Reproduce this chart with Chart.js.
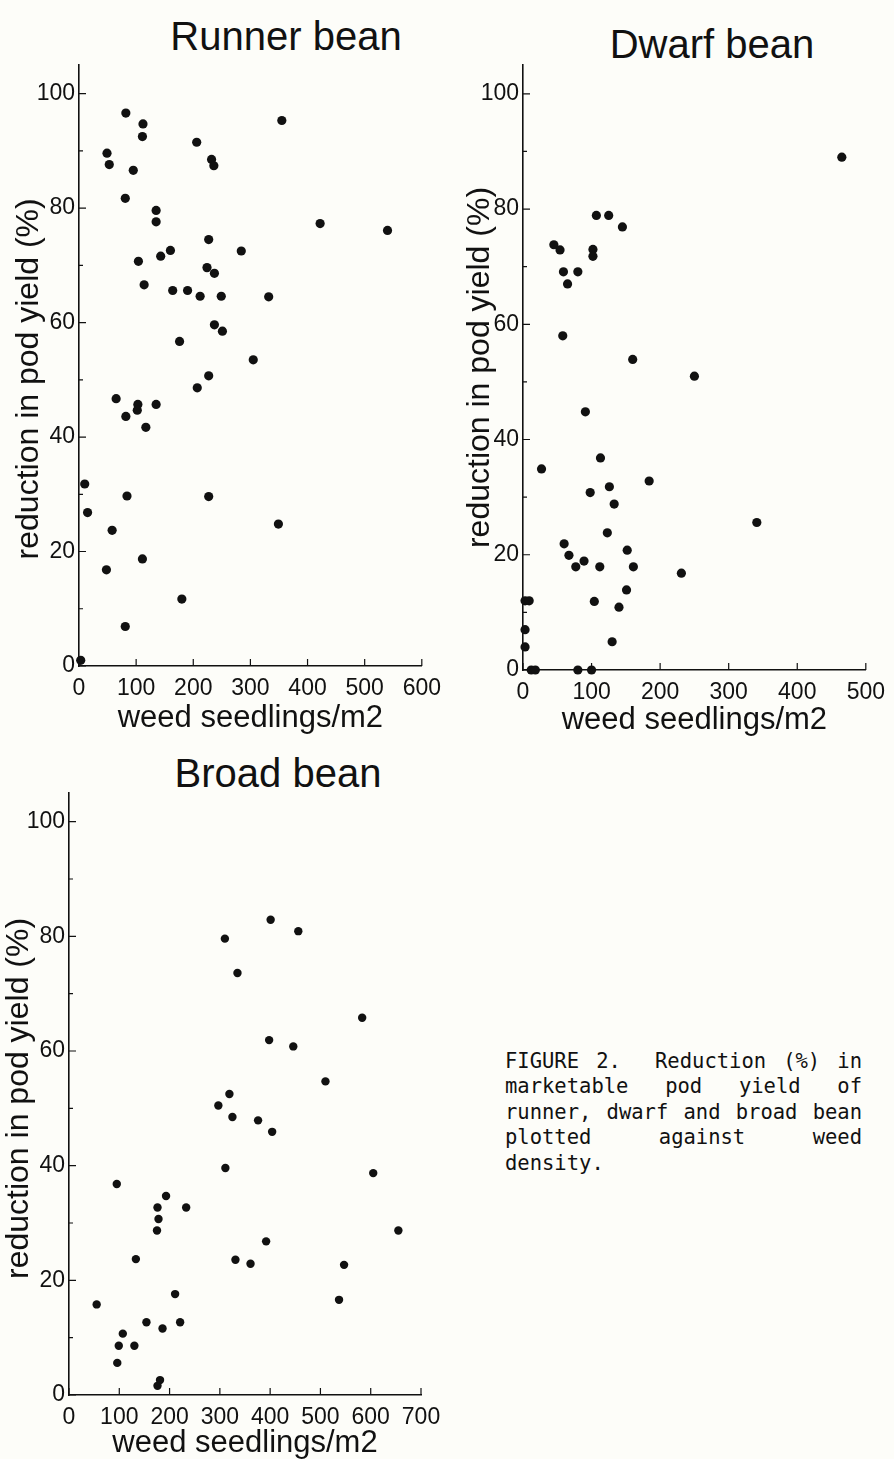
<!DOCTYPE html>
<html>
<head>
<meta charset="utf-8">
<script src="https://cdn.jsdelivr.net/npm/chart.js@4.4.1/dist/chart.umd.min.js"></script>
<style>
  html, body { margin: 0; padding: 0; background: #fdfdf9; }
  body { position: relative; width: 894px; height: 1459px; overflow: hidden; font-family: "Liberation Sans", Arial, sans-serif; }
  .panel { position: absolute; }
  .title { position: absolute; font-size: 40px; line-height: 40px; color: #111; white-space: nowrap; transform: translateX(-50%); }
  .caption { position: absolute; left: 505px; top: 1049px; width: 357px; font-family: "DejaVu Sans Mono", "Liberation Mono", monospace; font-size: 20.5px; line-height: 25.4px; color: #111; }
  .caption div { text-align: justify; text-align-last: justify; white-space: nowrap; }
  .caption div.last { text-align-last: left; }
</style>
</head>
<body>
<div class="title" style="left:286px; top:16px;">Runner bean</div>
<div class="title" style="left:712px; top:24px;">Dwarf bean</div>
<div class="title" style="left:278px; top:753px;">Broad bean</div>

<div class="panel" style="left:0; top:0; width:450px; height:740px;"><canvas id="runnerChart"></canvas></div>
<div class="panel" style="left:445px; top:0; width:449px; height:745px;"><canvas id="dwarfChart"></canvas></div>
<div class="panel" style="left:0; top:745px; width:450px; height:714px;"><canvas id="broadChart"></canvas></div>

<div class="caption">
  <div>FIGURE 2.&nbsp; Reduction (%) in</div>
  <div>marketable pod yield of</div>
  <div>runner, dwarf and broad bean</div>
  <div>plotted against weed</div>
  <div class="last">density.</div>
</div>

<script>
// weed seedlings/m2 (x) and reduction in pod yield % (y)
const runnerWeeds = [49, 53, 82, 112, 111, 95, 81, 135, 135, 206, 232, 236, 227, 284, 104, 143, 160, 114, 224, 237,
    164, 190, 212, 249, 332, 237, 251, 176, 305, 227, 207, 65, 103, 102, 135, 82, 117, 10, 15, 84,
    227, 58, 111, 48, 180, 81, 3, 349, 355, 422, 540];
const runnerLoss = [89.6, 87.6, 96.6, 94.7, 92.5, 86.6, 81.7, 79.6, 77.6, 91.5, 88.5, 87.4, 74.5, 72.5, 70.7, 71.6, 72.6, 66.6, 69.6, 68.6,
    65.6, 65.6, 64.6, 64.6, 64.5, 59.6, 58.5, 56.7, 53.5, 50.7, 48.6, 46.7, 45.7, 44.7, 45.7, 43.6, 41.7, 31.8, 26.8, 29.7,
    29.6, 23.7, 18.7, 16.8, 11.7, 6.9, 1, 24.8, 95.3, 77.3, 76.1];

const dwarfWeeds = [45, 54, 59, 80, 65, 107, 125, 145, 102, 102, 58, 160, 250, 465, 91, 27, 113, 126, 98, 133,
    184, 123, 60, 67, 77, 89, 112, 152, 161, 231, 341, 151, 104, 140, 130, 3, 9, 3, 3, 12,
    18, 80, 100];
const dwarfLoss = [73.8, 72.9, 69.1, 69.1, 67, 78.9, 78.9, 76.9, 73, 71.8, 58, 53.9, 51, 89, 44.8, 34.9, 36.8, 31.8, 30.8, 28.8,
    32.8, 23.8, 21.9, 19.9, 17.9, 18.9, 17.9, 20.8, 17.9, 16.8, 25.6, 13.9, 11.9, 10.9, 4.9, 12, 12, 7, 4, 0,
    0, 0, 0];

const broadWeeds = [310, 401, 456, 335, 583, 398, 446, 510, 319, 297, 325, 376, 404, 311, 605, 95, 193, 176, 233, 178,
    175, 655, 392, 133, 331, 361, 547, 211, 537, 55, 154, 221, 186, 107, 99, 130, 96, 181, 176];
const broadLoss = [79.6, 82.9, 80.9, 73.6, 65.8, 61.9, 60.8, 54.7, 52.5, 50.5, 48.5, 47.9, 45.9, 39.6, 38.7, 36.8, 34.7, 32.7, 32.7, 30.7,
    28.7, 28.7, 26.8, 23.7, 23.6, 22.9, 22.7, 17.6, 16.6, 15.8, 12.7, 12.7, 11.6, 10.7, 8.6, 8.6, 5.6, 2.6, 1.6];

// tick labels
const yTicks = [0, 20, 40, 60, 80, 100];
const yMinorTicks = [10, 30, 50, 70, 90];
const runnerXTicks = [0, 100, 200, 300, 400, 500, 600];
const dwarfXTicks = [0, 100, 200, 300, 400, 500];
const broadXTicks = [0, 100, 200, 300, 400, 500, 600, 700];

const yLabel = 'reduction in pod yield (%)';
const xLabel = 'weed seedlings/m2';
const ink = '#111';
const fontFamily = '"Liberation Sans", Arial, Helvetica, sans-serif';

// small inward tick marks, like the original plots
const inwardTicks = {
    id: 'inwardTicks',
    afterDatasetsDraw(chart) {
        const { ctx, chartArea, scales: { x, y } } = chart;
        ctx.save();
        ctx.strokeStyle = ink;
        ctx.lineWidth = 1.2;
        ctx.beginPath();
        x.ticks.forEach(t => {
            const px = x.getPixelForValue(t.value);
            ctx.moveTo(px, chartArea.bottom);
            ctx.lineTo(px, chartArea.bottom - 7);
        });
        y.ticks.forEach(t => {
            const py = y.getPixelForValue(t.value);
            ctx.moveTo(chartArea.left, py);
            ctx.lineTo(chartArea.left + 7, py);
        });
        yMinorTicks.forEach(v => {
            const py = y.getPixelForValue(v);
            ctx.moveTo(chartArea.left, py);
            ctx.lineTo(chartArea.left + 4, py);
        });
        ctx.stroke();
        ctx.restore();
    }
};

function renderPanel(id, weeds, loss, xTicks, box) {
    new Chart(document.getElementById(id), {
        type: 'scatter',
        data: {
            datasets: [{
                data: weeds.map((w, i) => ({ x: w, y: loss[i] })),
                backgroundColor: ink,
                borderColor: ink,
                pointRadius: box.dot,
                pointHoverRadius: box.dot,
                borderWidth: 0,
                clip: false
            }]
        },
        options: {
            responsive: true,
            maintainAspectRatio: false,
            animation: false,
            events: [],
            layout: { padding: { left: 0, top: box.top, right: box.right, bottom: box.bottom } },
            plugins: { legend: { display: false }, tooltip: { enabled: false } },
            scales: {
                x: {
                    type: 'linear',
                    min: 0,
                    max: xTicks[xTicks.length - 1],
                    afterBuildTicks: s => { s.ticks = xTicks.map(v => ({ value: v })); },
                    afterFit: s => { s.height = box.xHeight; },
                    grid: { display: false, drawTicks: false },
                    border: { display: true, color: ink, width: 1.6 },
                    ticks: { color: ink, padding: 9, maxRotation: 0, font: { family: fontFamily, size: 23 } },
                    title: { display: true, text: xLabel, color: ink, padding: 0, font: { family: fontFamily, size: 31, lineHeight: 1 } }
                },
                y: {
                    type: 'linear',
                    min: 0,
                    max: 105,
                    afterBuildTicks: s => { s.ticks = yTicks.map(v => ({ value: v })); },
                    afterFit: s => { s.width = box.yWidth; },
                    grid: { display: false, drawTicks: false },
                    border: { display: true, color: ink, width: 1.6 },
                    ticks: { color: ink, padding: 4, font: { family: fontFamily, size: 23 } },
                    title: { display: true, text: yLabel + box.yShift, color: ink, padding: { top: box.yTitle, bottom: 0 }, font: { family: fontFamily, size: 32, lineHeight: 1 } }
                }
            }
        },
        plugins: [inwardTicks]
    });
}

renderPanel('runnerChart', runnerWeeds, runnerLoss, runnerXTicks,
    { top: 65, right: 23, bottom: 6.5, xHeight: 67.5, yWidth: 79, yTitle: 13, yShift: '   ', dot: 4.6 });
renderPanel('dwarfChart', dwarfWeeds, dwarfLoss, dwarfXTicks,
    { top: 65, right: 22, bottom: 9.5, xHeight: 65.5, yWidth: 78, yTitle: 19, yShift: '', dot: 4.6 });
renderPanel('broadChart', broadWeeds, broadLoss, broadXTicks,
    { top: 48, right: 29, bottom: 0.5, xHeight: 63.5, yWidth: 69, yTitle: 3, yShift: ' ', dot: 4.2 });
</script>
</body>
</html>
